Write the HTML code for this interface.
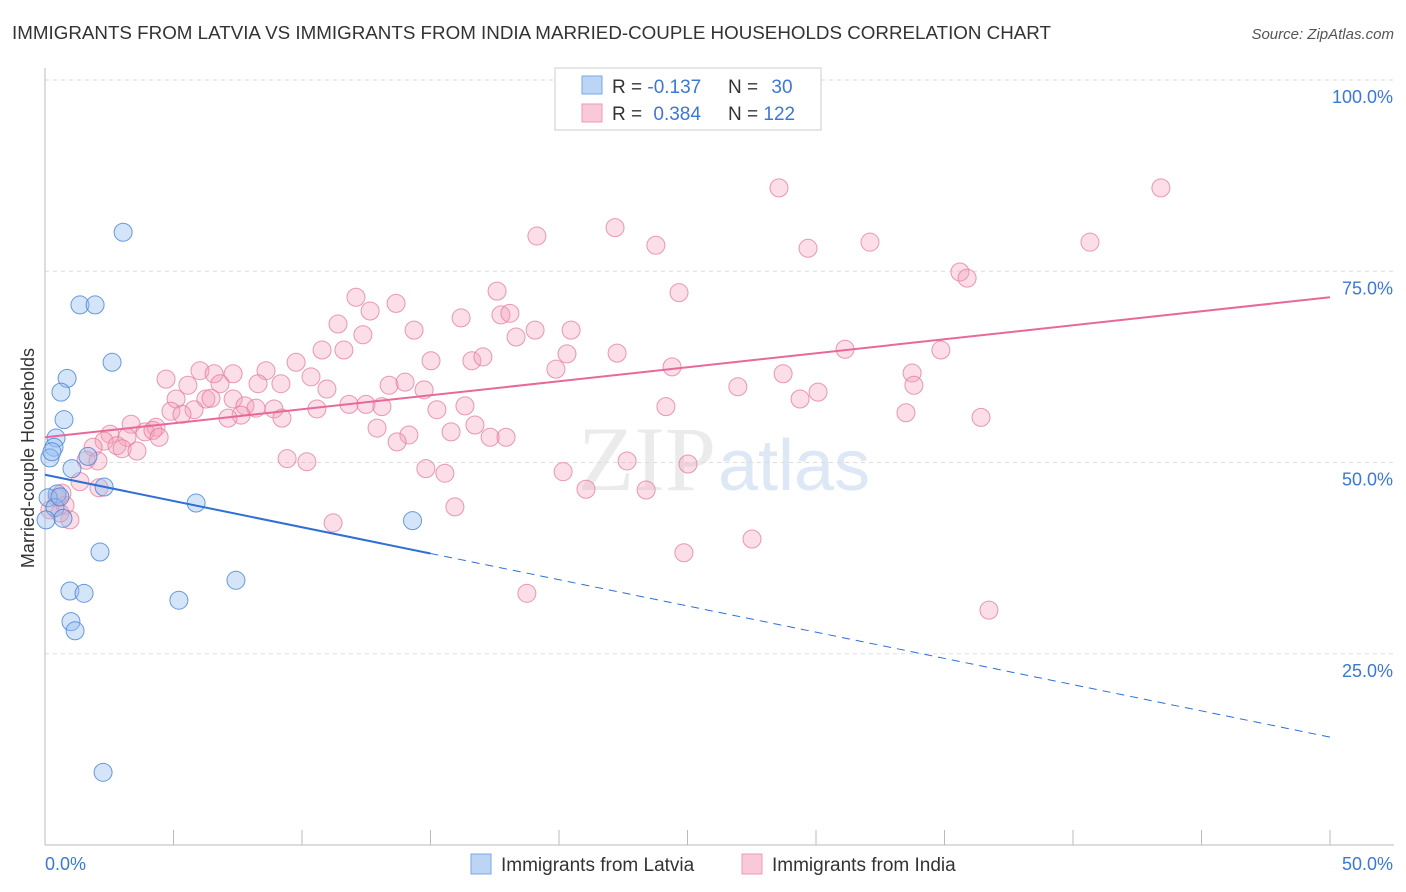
<!DOCTYPE html>
<html><head><meta charset="utf-8"><style>
body{margin:0;background:#fff;font-family:"Liberation Sans",sans-serif}
#wrap{position:relative;width:1406px;height:892px;overflow:hidden}
</style></head><body>
<div id="wrap">
<svg id="svg" width="1406" height="892" xmlns="http://www.w3.org/2000/svg" font-family="Liberation Sans, sans-serif">
<text x="12" y="39" font-size="18.5" fill="#333" textLength="1039" lengthAdjust="spacingAndGlyphs">IMMIGRANTS FROM LATVIA VS IMMIGRANTS FROM INDIA MARRIED-COUPLE HOUSEHOLDS CORRELATION CHART</text>
<text x="1394" y="39" font-size="15" fill="#555" font-style="italic" text-anchor="end">Source: ZipAtlas.com</text>
<text x="34" y="458" font-size="18" fill="#333" text-anchor="middle" transform="rotate(-90 34 458)">Married-couple Households</text>
<text x="716" y="490" font-size="92" fill="#ebebeb" text-anchor="end" font-family="Liberation Serif, serif">ZIP</text>
<text x="718" y="490" font-size="72" fill="#dde7f5">atlas</text>
<g id="grid"></g><g id="axes"></g><g id="pts"></g><g id="trend"></g>
<g>
<rect x="555" y="68" width="266" height="62" fill="#fff" stroke="#ccc"/>
<rect x="582" y="76" width="20" height="18" fill="#bcd5f5" stroke="#7aa8e6"/>
<rect x="582" y="104" width="20" height="18" fill="#f9c9d7" stroke="#ee9ab3"/>
<text x="612" y="93" font-size="19" fill="#333">R = <tspan fill="#3a78d8">-0.137</tspan></text>
<text x="728" y="93" font-size="19" fill="#333">N = <tspan fill="#3a78d8" dx="8">30</tspan></text>
<text x="612" y="120" font-size="19" fill="#333">R = <tspan fill="#3a78d8" dx="6">0.384</tspan></text>
<text x="728" y="120" font-size="19" fill="#333">N = <tspan fill="#3a78d8">122</tspan></text>
</g>
<g>
<rect x="471" y="854" width="20" height="20" fill="#bcd5f5" stroke="#7aa8e6"/>
<text x="501" y="871" font-size="19" fill="#333">Immigrants from Latvia</text>
<rect x="742" y="854" width="20" height="20" fill="#f9c9d7" stroke="#ee9ab3"/>
<text x="772" y="871" font-size="19" fill="#333">Immigrants from India</text>
</g>
</svg></div>
<script>
const latX=[3.04,1.36,1.95,2.61,0.86,0.62,0.74,0.43,0.35,0.19,1.67,1.05,2.30,0.47,0.12,0.39,0.70,5.88,14.3,2.14,7.43,0.97,1.52,5.21,1.01,1.17,2.26,0.04,0.58,0.27];
const latY=[80.1,70.6,70.6,63.1,61.0,59.2,55.6,53.2,52.0,50.6,50.8,49.2,46.8,45.9,45.4,44.1,42.7,44.7,42.4,38.3,34.6,33.2,32.9,32.0,29.2,28.0,9.5,42.5,45.5,51.4];
const indX=[28.56,43.42,19.14,22.18,23.77,29.69,32.10,40.66,35.60,35.88,24.67,17.59,12.10,13.66,12.65,11.40,16.19,17.74,18.09,14.36,19.07,20.47,12.37,18.33,11.63,9.77,10.78,8.60,6.03,6.58,7.32,15.02,16.61,17.04,20.31,22.26,24.40,31.13,34.86,4.71,5.56,6.81,8.29,9.18,10.35,13.39,14.01,19.88,28.72,33.74,33.81,26.96,5.10,6.26,6.46,7.32,10.97,14.75,30.08,29.38,5.80,4.90,7.78,8.21,8.91,7.63,7.12,10.58,11.83,12.49,13.11,15.25,16.34,24.16,33.50,36.42,9.22,3.35,4.32,3.89,2.53,3.19,5.33,4.20,4.44,2.30,2.80,1.87,3.00,3.58,12.92,14.16,15.80,16.73,17.32,17.94,13.70,9.42,10.19,1.60,2.06,1.36,2.10,14.82,15.56,20.16,22.65,25.02,21.05,23.39,15.95,11.21,24.86,27.51,18.75,36.73,0.66,0.78,0.97,0.47,0.19,0.58];
const indY=[85.9,85.9,79.6,80.7,78.4,78.0,78.8,78.8,74.9,74.1,72.2,72.4,71.6,70.8,69.8,68.1,68.9,69.3,69.5,67.3,67.3,67.3,66.7,66.4,64.7,63.1,64.7,62.0,62.0,61.6,61.6,63.3,63.3,63.8,64.2,64.3,62.5,64.8,64.7,60.9,60.1,60.3,60.3,60.3,61.2,60.1,60.5,62.2,61.6,61.7,60.1,59.9,58.3,58.3,58.4,58.3,59.6,59.5,59.2,58.3,56.9,56.7,57.4,57.1,57.0,56.2,55.8,57.0,57.6,57.6,57.3,56.9,57.4,57.3,56.5,55.9,55.8,55.0,54.6,54.0,53.7,53.3,56.3,54.2,53.3,52.8,52.2,52.0,51.8,51.5,54.5,53.6,54.0,54.9,53.3,53.3,52.7,50.5,50.1,50.3,50.2,47.5,46.7,49.2,48.6,48.8,50.2,49.8,46.5,46.4,44.2,42.1,38.2,40.0,32.9,30.7,46.0,44.4,42.5,45.4,43.8,43.4];
const yTicks=[25,50,75,100];
const yTickLabels=["25.0%","50.0%","75.0%","100.0%"];
const latTrend=[48.4,14.1];
const indTrend=[53.3,71.6];
const NS="http://www.w3.org/2000/svg";
const sx=v=>45+v*25.7, sy=v=>845-v*7.65;
function mk(p,t,a){const e=document.createElementNS(NS,t);for(const k in a)e.setAttribute(k,a[k]);p.appendChild(e);return e;}
const grid=document.getElementById('grid'),axes=document.getElementById('axes'),pts=document.getElementById('pts'),tr=document.getElementById('trend');
yTicks.forEach((t,i)=>{
 const l=mk(grid,'line',{x1:45,x2:1394,y1:sy(t),y2:sy(t),stroke:'#ddd','stroke-dasharray':'4,4'});
 
 
 const tx=mk(grid,'text',{x:1393,y:sy(t)+23,'font-size':18,fill:'#3a78d8','text-anchor':'end'});
 tx.textContent=yTickLabels[i];
 
 
});
const ax=mk(axes,'line',{x1:45,x2:45,y1:68,y2:845,stroke:'#bbb'});


const bx=mk(axes,'line',{x1:45,x2:1394,y1:845,y2:845,stroke:'#bbb'});


for(let i=0;i<=10;i++){const t=mk(axes,'line',{x1:sx(i*5),x2:sx(i*5),y1:830,y2:845,stroke:'#bbb'});
 
 }
[["0.0%",45,'start'],["50.0%",1393,'end']].forEach(d=>{const t=mk(axes,'text',{x:d[1],y:870,'font-size':18,fill:'#3a78d8','text-anchor':d[2]});t.textContent=d[0];
 
 });
indX.forEach((x,i)=>{const c=mk(pts,'circle',{cx:sx(x),cy:sy(indY[i]),r:9,fill:'rgba(244,160,186,0.35)',stroke:'rgba(230,120,155,0.75)','stroke-width':1});
 
 });
latX.forEach((x,i)=>{const c=mk(pts,'circle',{cx:sx(x),cy:sy(latY[i]),r:9,fill:'rgba(150,190,240,0.4)',stroke:'rgba(70,130,215,0.8)','stroke-width':1});
 
 });
const ly=x=>latTrend[0]+(latTrend[1]-latTrend[0])*x/50;
const t1=mk(tr,'line',{x1:sx(0),y1:sy(ly(0)),x2:sx(15),y2:sy(ly(15)),stroke:'#2f6fd6','stroke-width':2});


const t2=mk(tr,'line',{x1:sx(15),y1:sy(ly(15)),x2:sx(50),y2:sy(ly(50)),stroke:'#2f6fd6','stroke-width':1,'stroke-dasharray':'8,6'});


const t3=mk(tr,'line',{x1:sx(0),y1:sy(indTrend[0]),x2:sx(50),y2:sy(indTrend[1]),stroke:'#e8689a','stroke-width':2});


</script>
</body></html>
